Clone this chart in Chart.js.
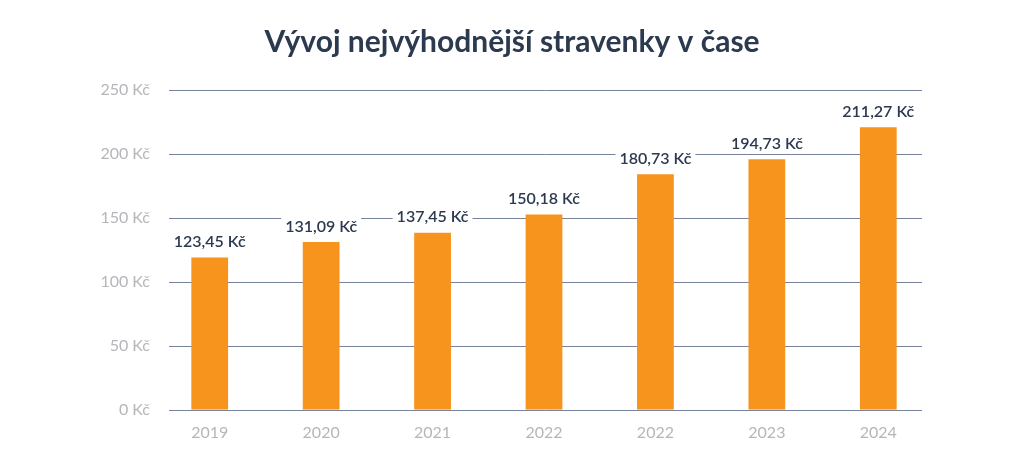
<!DOCTYPE html>
<html>
<head>
<meta charset="utf-8">
<script src="https://cdn.jsdelivr.net/npm/chart.js@4/dist/chart.umd.min.js"></script>
<style>
  html, body { margin: 0; padding: 0; background: #ffffff; }
  #wrap { width: 1024px; height: 457px; }
</style>
</head>
<body>
<div id="wrap"><canvas id="chart" width="1024" height="457"></canvas></div>
<script>
// data
const years = ['2019', '2020', '2021', '2022', '2022', '2023', '2024'];
const values = [119.1, 131.1, 138.5, 152.6, 184.2, 195.9, 220.8];
const valueLabels = ['123,45 Kč', '131,09 Kč', '137,45 Kč', '150,18 Kč', '180,73 Kč', '194,73 Kč', '211,27 Kč'];
const yTicks = [0, 50, 100, 150, 200, 250];
const titleText = 'Vývoj nejvýhodnější stravenky v čase';

const FONT = 'Lato, "Noto Sans", sans-serif';
const NAVY = '#2b3a4f';
const GRID = '#76839a';

// title centred on the whole canvas
const pageTitle = {
    id: 'pageTitle',
    afterDraw(chart){
        const ctx = chart.ctx;
        ctx.save();
        ctx.font = 'bold 30px ' + FONT;
        ctx.fillStyle = NAVY;
        ctx.textAlign = 'center';
        ctx.textBaseline = 'middle';
        ctx.fillText(titleText, chart.width / 2, 42);
        ctx.restore();
    }
};

function hLine(chart, v){
    const ctx = chart.ctx;
    const area = chart.chartArea;
    const py = Math.round(chart.scales.y.getPixelForValue(v)) + 0.5;
    ctx.beginPath();
    ctx.moveTo(area.left + 15, py);
    ctx.lineTo(area.right - 12, py);
    ctx.stroke();
}

// horizontal grid lines behind the bars, base line in front
const gridLines = {
    id: 'gridLines',
    beforeDatasetsDraw(chart){
        const ctx = chart.ctx;
        ctx.save();
        ctx.strokeStyle = GRID;
        ctx.lineWidth = 1;
        yTicks.filter(v => v > 0).forEach(v => hLine(chart, v));
        ctx.restore();
    },
    afterDatasetsDraw(chart){
        const ctx = chart.ctx;
        ctx.save();
        ctx.strokeStyle = GRID;
        ctx.lineWidth = 1;
        hLine(chart, 0);
        ctx.restore();
    }
};

// value labels with white box behind them
const valueBoxes = {
    id: 'valueBoxes',
    afterDatasetsDraw(chart){
        const ctx = chart.ctx;
        const meta = chart.getDatasetMeta(0);
        ctx.save();
        ctx.font = '600 16px ' + FONT;
        ctx.textAlign = 'center';
        ctx.textBaseline = 'middle';
        meta.data.forEach((bar, i) => {
            const txt = valueLabels[i];
            const w = ctx.measureText(txt).width + 8;
            const cy = bar.y - 15.5;
            ctx.fillStyle = '#ffffff';
            ctx.fillRect(bar.x - w / 2, cy - 10, w, 20);
            ctx.fillStyle = NAVY;
            ctx.fillText(txt, bar.x, cy);
        });
        ctx.restore();
    }
};

new Chart(
    document.getElementById('chart'),
    {
        type: 'bar',
        data: {
            labels: years,
            datasets: [
                {
                    data: values,
                    backgroundColor: '#f7941d',
                    barPercentage: 0.33,
                    categoryPercentage: 1
                }
            ]
        },
        options: {
            responsive: false,
            animation: false,
            layout: {
                padding: { left: 0, right: 90, top: 90, bottom: 10 }
            },
            plugins: {
                legend: { display: false },
                tooltip: { enabled: false },
                title: { display: false }
            },
            scales: {
                x: {
                    grid: { display: false },
                    border: { display: false },
                    ticks: {
                        color: '#b4b6ba',
                        font: { family: FONT, size: 16 },
                        padding: 5
                    }
                },
                y: {
                    min: 0,
                    max: 250,
                    afterFit(scale){ scale.width = 154; },
                    grid: { display: false, drawTicks: false },
                    border: { display: false },
                    afterBuildTicks(scale){
                        scale.ticks = yTicks.map(v => ({ value: v }));
                    },
                    ticks: {
                        color: '#b4b6ba',
                        font: { family: FONT, size: 16 },
                        padding: 4,
                        callback: v => v + ' Kč'
                    }
                }
            }
        },
        plugins: [gridLines, valueBoxes, pageTitle]
    }
);
</script>
</body>
</html>
